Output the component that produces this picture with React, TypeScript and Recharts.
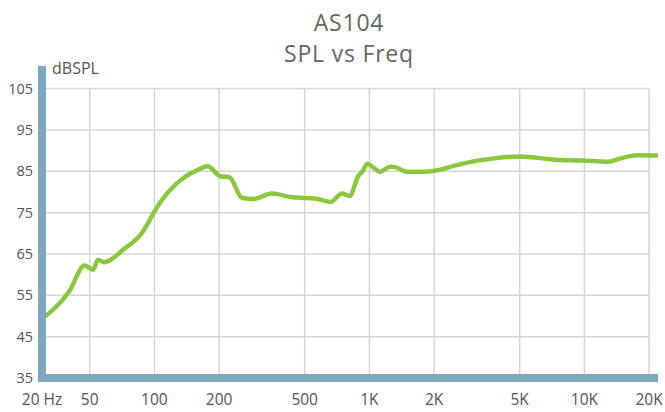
import { LineChart, Line, XAxis, YAxis, ReferenceLine } from 'recharts';

// frequency response
const FREQS = [
  30, 40.2, 47.3, 51.9, 54.6, 58.5, 71.7, 88.1, 94.4, 99, 140, 157, 177, 202, 224, 255, 289, 351,
  441, 560, 660, 746, 809, 886, 929, 981, 1025, 1121, 1247, 1315, 1488, 1779, 2050, 2544, 3044,
  3646, 5040, 7310, 9855, 12900, 14470, 17550, 22000,
];
const SPL = [
  49.3, 56.0, 62.2, 61.2, 63.6, 63.0, 66.1, 70.3, 72.9, 74.9, 83.8, 85.2, 86.2, 83.8, 83.5, 78.6,
  78.3, 79.6, 78.7, 78.4, 77.6, 79.6, 79.0, 83.8, 85.0, 86.8, 86.2, 84.9, 86.1, 86.0, 84.9, 84.9,
  85.2, 86.5, 87.4, 88.0, 88.6, 87.8, 87.6, 87.3, 88.0, 88.9, 88.8,
];

const X_MIN = 30;
const X_MAX = 22000;
const X_TICKS = [X_MIN, 50, 100, 200, 500, 1000, 2000, 5000, 10000, 20000];
const X_LABELS = ['20 Hz', '50', '100', '200', '500', '1K', '2K', '5K', '10K', '20K'];
const Y_TICKS = [35, 45, 55, 65, 75, 85, 95, 105];

const data = FREQS.map((f, i) => ({ f, spl: SPL[i] }));

const BAR = '#7fa7bd';
const GRID = '#d6d6d6';
const FONT = '"Open Sans", sans-serif';

export default function App() {
  const titleStyle = {
    position: 'absolute' as const,
    left: 42,
    width: 614,
    textAlign: 'center' as const,
    fontSize: 23,
    letterSpacing: 0.8,
    lineHeight: '23px',
    color: '#666',
  };
  return (
    <div style={{ position: 'absolute', left: 0, top: 0, width: 665, height: 412, fontFamily: FONT }}>
      <div style={{ ...titleStyle, top: 11 }}>AS104</div>
      <div style={{ ...titleStyle, top: 42 }}>SPL vs Freq</div>
      <div style={{ position: 'absolute', left: 52, top: 60, fontSize: 16, lineHeight: '16px', color: '#555' }}>
        dBSPL
      </div>
      <LineChart width={665} height={412} data={data} margin={{ top: 70, right: 7, left: 0, bottom: 4 }}>
        {X_TICKS.slice(1).map((t) => (
          <ReferenceLine
            key={'v' + t}
            segment={[{ x: t, y: 35 }, { x: t, y: 105 }]}
            stroke={GRID}
            strokeWidth={1.5}
          />
        ))}
        {Y_TICKS.slice(1).map((t) => (
          <ReferenceLine
            key={'h' + t}
            segment={[{ x: X_MIN, y: t }, { x: 20000, y: t }]}
            stroke={GRID}
            strokeWidth={1.5}
          />
        ))}
        <XAxis
          dataKey="f"
          type="number"
          scale="log"
          domain={[X_MIN, X_MAX]}
          allowDataOverflow
          ticks={X_TICKS}
          interval={0}
          tickFormatter={(v: number) => X_LABELS[X_TICKS.indexOf(v)] ?? ''}
          height={30}
          tickLine={false}
          tickSize={0}
          tickMargin={16}
          axisLine={{ stroke: BAR, strokeWidth: 8 }}
          tick={{ fill: '#555', fontSize: 15.5, fontFamily: FONT }}
        />
        <YAxis
          type="number"
          domain={[35, 109.5]}
          ticks={Y_TICKS}
          interval={0}
          width={42}
          tickLine={false}
          tickSize={0}
          tickMargin={9}
          axisLine={{ stroke: BAR, strokeWidth: 8, strokeLinecap: 'square' }}
          tick={{ fill: '#555', fontSize: 14.5, fontFamily: FONT }}
        />
        <Line
          type="monotone"
          dataKey="spl"
          stroke="#8cc63f"
          strokeWidth={4.5}
          strokeLinecap="round"
          dot={false}
          isAnimationActive={false}
        />
      </LineChart>
    </div>
  );
}
